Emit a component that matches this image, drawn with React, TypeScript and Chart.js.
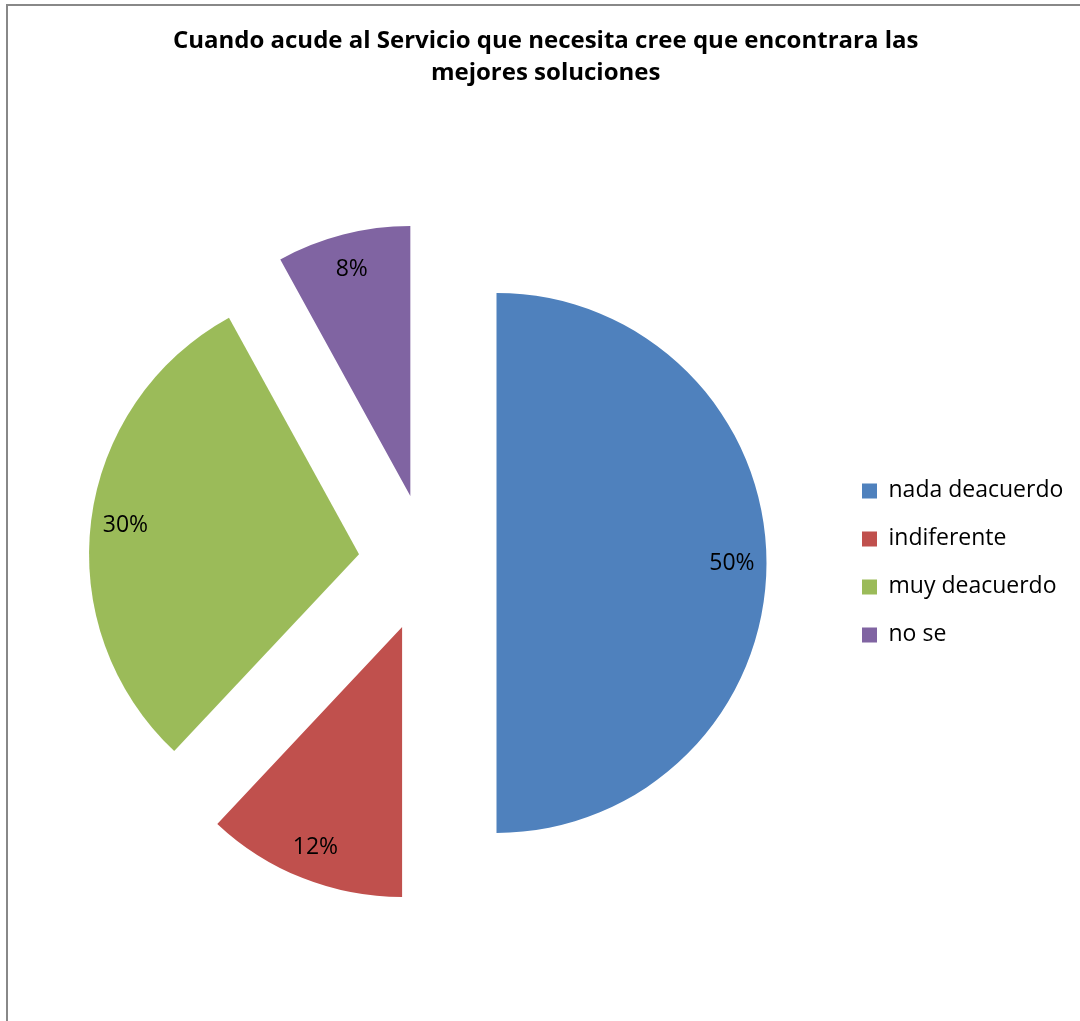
import React, { useEffect, useRef } from "react";
import { Chart, registerables } from "chart.js";

Chart.register(...registerables);

const categories = ["nada deacuerdo", "indiferente", "muy deacuerdo", "no se"];
const values = [50, 12, 30, 8];
const colors = ["#4F81BD", "#C0504D", "#9BBB59", "#8064A2"];
const titleLines = [
  "Cuando acude al Servicio que necesita cree que encontrara las",
  "mejores soluciones",
];

const FONT = "'Open Sans', Lato, sans-serif";
const EXPLODE = 69;
const RADIUS = 270;
const CANVAS_W = 1076;
const CANVAS_H = 1015;
const LEGEND_FONT = 23;
const LEGEND_PAD = 25;
const LEGEND_BOX = 15;
const LEGEND_LEFT = 829;
const PAD_LEFT = 10;

const explodePlugin = {
  id: "explode",
  afterDatasetUpdate(chart: any, args: any) {
    args.meta.data.forEach((arc: any) => {
      const mid = (arc.startAngle + arc.endAngle) / 2;
      arc.x += Math.cos(mid) * EXPLODE;
      arc.y += Math.sin(mid) * EXPLODE;
    });
  },
};

const labelPlugin = {
  id: "pieLabels",
  afterDatasetsDraw(chart: any) {
    const ctx = chart.ctx;
    const meta = chart.getDatasetMeta(0);
    ctx.save();
    ctx.font = `23px ${FONT}`;
    ctx.fillStyle = "#000";
    ctx.textAlign = "center";
    ctx.textBaseline = "middle";
    meta.data.forEach((arc: any, i: number) => {
      const mid = (arc.startAngle + arc.endAngle) / 2;
      const r = arc.outerRadius * 0.872;
      ctx.fillText(`${values[i]}%`, arc.x + Math.cos(mid) * r, arc.y + Math.sin(mid) * r + 1);
    });
    ctx.restore();
  },
};

export default function App() {
  const canvasRef = useRef<HTMLCanvasElement | null>(null);

  useEffect(() => {
    const canvas = canvasRef.current;
    if (!canvas) return;
    const mctx = document.createElement("canvas").getContext("2d")!;
    mctx.font = `normal ${LEGEND_FONT}px ${FONT}`;
    const textW = Math.max(...categories.map((c) => mctx.measureText(c).width));
    const legendW = LEGEND_PAD + LEGEND_BOX + LEGEND_FONT / 2 + textW + 10;
    const padRight = Math.max(0, CANVAS_W - (LEGEND_LEFT + legendW));

    const chart = new Chart(canvas, {
      type: "pie",
      data: {
        labels: categories,
        datasets: [
          {
            data: values,
            backgroundColor: colors,
            borderWidth: 0,
            radius: RADIUS,
            clip: false,
          } as any,
        ],
      },
      options: {
        responsive: false,
        animation: false,
        events: [],
        layout: { padding: { left: PAD_LEFT, right: padRight, top: 0, bottom: 0 } },
        plugins: {
          title: {
            display: true,
            text: titleLines,
            color: "#000",
            font: { family: FONT, size: 24, weight: "bold", lineHeight: "32.4px" },
            padding: { top: 19, bottom: 15 },
          },
          legend: {
            position: "right",
            fullSize: false,
            labels: {
              boxWidth: LEGEND_BOX,
              boxHeight: LEGEND_BOX,
              padding: LEGEND_PAD,
              color: "#000",
              font: { family: FONT, size: LEGEND_FONT },
            },
          },
          tooltip: { enabled: false },
        },
      },
      plugins: [explodePlugin, labelPlugin],
    });
    return () => chart.destroy();
  }, []);

  return (
    <div
      style={{
        position: "fixed",
        left: 0,
        top: 0,
        width: 1080,
        height: 1021,
        overflow: "hidden",
        background: "#fff",
      }}
    >
      <div
        style={{
          position: "absolute",
          left: 6,
          top: 4,
          width: CANVAS_W,
          height: CANVAS_H + 10,
          border: "2px solid #888",
        }}
      >
        <canvas ref={canvasRef} width={CANVAS_W} height={CANVAS_H} style={{ display: "block" }} />
      </div>
    </div>
  );
}
